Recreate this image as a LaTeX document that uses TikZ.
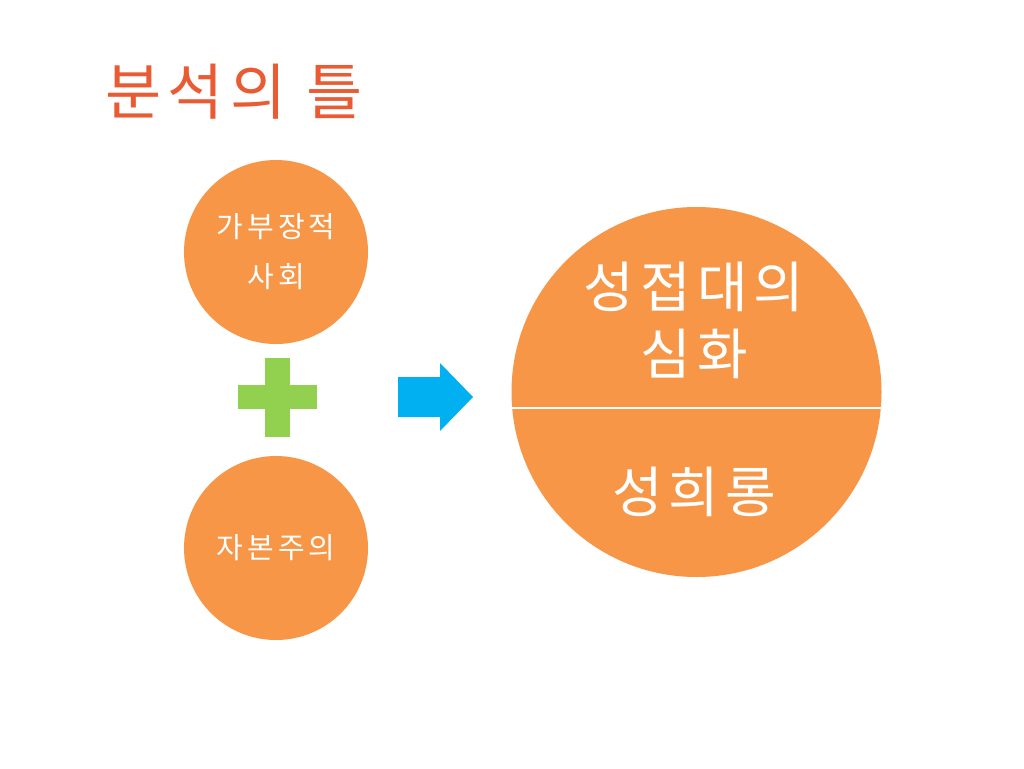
\documentclass[tikz,border=0pt]{standalone}
\usepackage{fontspec}
\newfontfamily\kr{Noto Sans CJK KR}
\newfontfamily\krsmall[LetterSpace=14]{Noto Sans CJK KR}
\newfontfamily\krbig[LetterSpace=11]{Noto Sans CJK KR}
\newfontfamily\krtitle[LetterSpace=10]{Noto Sans CJK KR}
\definecolor{circorange}{HTML}{F79646}
\definecolor{titlered}{HTML}{EA5B34}
\definecolor{plusgreen}{HTML}{92D050}
\definecolor{arrowblue}{HTML}{00B0F0}
\tikzset{
  disc/.style={circle, fill=circorange, draw=none, minimum size=#1, inner sep=0pt},
  smalltxt/.style={text=white, font=\krsmall\fontsize{29}{50}\selectfont, align=center, inner sep=0pt},
  bigtxt/.style={text=white, font=\krbig\fontsize{55}{66}\selectfont, align=center, inner sep=0pt},
}
\begin{document}
\begin{tikzpicture}[x=1pt,y=-1pt]
\useasboundingbox (0,0) rectangle (1024,768);
\fill[white] (0,0) rectangle (1024,768);
% title
\node[text=titlered, font=\krtitle\fontsize{61}{70}\selectfont, inner sep=0pt] (title) at (234,92) {분석의 틀};
% left circles
\node[disc=184pt] (c1) at (276,252) {};
\node[smalltxt] (t1a) at (276,227) {가부장적};
\node[smalltxt] (t1b) at (276,277) {사회};
\node[disc=184pt] (c2) at (276,548) {};
\node[smalltxt] (t2) at (276,548) {자본주의};
% plus
\fill[plusgreen] (238,385) rectangle (317,409);
\fill[plusgreen] (265,358) rectangle (290,437);
% arrow
\fill[arrowblue] (398,377) -- (440,377) -- (440,363) -- (473,397) -- (440,431) -- (440,417) -- (398,417) -- cycle;
% big circle
\node[disc=370pt] (big) at (696.5,392) {};
\draw[white, line width=2.5pt] (512.2,408) -- (880.8,408);
\node[bigtxt] (b1) at (694,287) {성접대의};
\node[bigtxt] (b2) at (694,354) {심화};
\node[bigtxt] (b3) at (694,492) {성희롱};
\end{tikzpicture}
\end{document}
